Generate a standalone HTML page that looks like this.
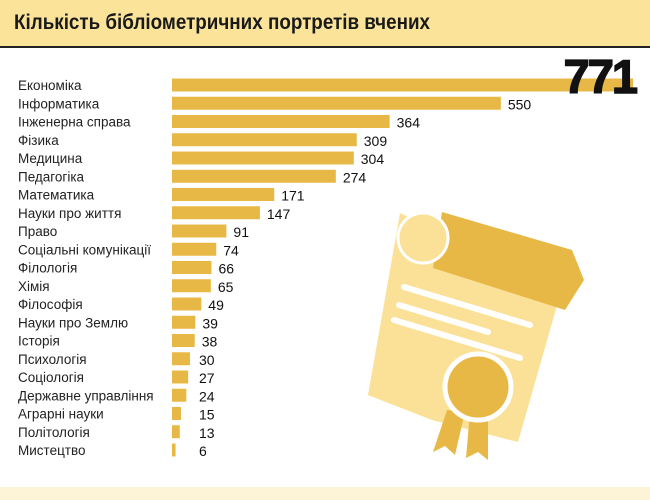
<!DOCTYPE html>
<html><head><meta charset="utf-8">
<style>
html,body{margin:0;padding:0;background:#fff;}
#wrap{position:relative;width:650px;height:500px;overflow:hidden;font-family:"Liberation Sans","Noto Sans CJK SC",sans-serif;}
#hdr{position:absolute;left:0;top:0;width:650px;height:46px;background:#fbe49a;border-bottom:2px solid #222;}
#foot{position:absolute;left:0;top:487px;width:650px;height:13px;background:#fdf3d6;}
svg{position:absolute;left:0;top:0;}
</style></head>
<body>
<div id="wrap">
<div id="hdr"></div>
<div id="foot"></div>
<svg id="svg" width="650" height="500">
<text x="14" y="29" font-size="21" font-weight="bold" fill="#1a1a1a" textLength="416" lengthAdjust="spacingAndGlyphs">Кількість бібліометричних портретів вчених</text>
<g>
<polygon points="400,213 562,288 518,442 432,420 368,395" fill="#fbe198"/>
<polygon points="442,212 572,250 584,280 565,310 433,268" fill="#e8b847"/>
<circle cx="423" cy="238" r="25" fill="#fbe198" stroke="#fff" stroke-width="3"/>
<line x1="404" y1="287" x2="530" y2="325" stroke="#fff" stroke-width="6" stroke-linecap="round"/>
<line x1="399" y1="305" x2="488" y2="332" stroke="#fff" stroke-width="6" stroke-linecap="round"/>
<line x1="394" y1="320" x2="520" y2="358" stroke="#fff" stroke-width="6" stroke-linecap="round"/>
<polygon points="447,410 465,412 455,455 445,446 433,452" fill="#e8b847"/>
<polygon points="470,412 488,414 488,460 478,452 466,458" fill="#e8b847"/>
<circle cx="478" cy="387" r="33" fill="#e8b847" stroke="#fff" stroke-width="5"/>
</g>
<g id="bars"></g>
</svg>
</div>
<script>
const categories=["Економіка","Інформатика","Інженерна справа","Фізика","Медицина","Педагогіка","Математика","Науки про життя","Право","Соціальні комунікації","Філологія","Хімія","Філософія","Науки про Землю","Історія","Психологія","Соціологія","Державне управління","Аграрні науки","Політологія","Мистецтво"];
const values=[771,550,364,309,304,274,171,147,91,74,66,65,49,39,38,30,27,24,15,13,6];
const NS="http://www.w3.org/2000/svg";
const g=document.getElementById('bars');
const x0=172, xmax=771, wmax=461;
function xs(v){return v/xmax*wmax;}
function yc(i){return 85+i*18.25;}
for(let i=0;i<categories.length;i++){
  const v=values[i], w=xs(v), y=yc(i);
  const t=document.createElementNS(NS,'text');
  
  
  t.setAttribute('x',18);t.setAttribute('y',y+5);
  t.setAttribute('font-size','13.5');t.setAttribute('fill','#222');
  t.textContent=categories[i];g.appendChild(t);
  const r=document.createElementNS(NS,'rect');
  
  
  r.setAttribute('x',x0);r.setAttribute('y',y-6.5);r.setAttribute('width',w);r.setAttribute('height',13);
  r.setAttribute('fill','#e8b847');g.appendChild(r);
  const l=document.createElementNS(NS,'text');
  
  
  if(i===0){
    l.setAttribute('x',x0+w+3);l.setAttribute('y',y+8);l.setAttribute('text-anchor','end');
    l.setAttribute('font-size','47');l.setAttribute('font-weight','bold');l.setAttribute('fill','#111');
    l.setAttribute('stroke','#111');l.setAttribute('stroke-width','1.5');
    l.setAttribute('letter-spacing','-2');
  }else{
    l.setAttribute('x',Math.max(x0+w+7,199));l.setAttribute('y',y+6);
    l.setAttribute('font-size','14');l.setAttribute('fill','#111');
  }
  l.textContent=v;g.appendChild(l);
}
</script>
</body></html>
